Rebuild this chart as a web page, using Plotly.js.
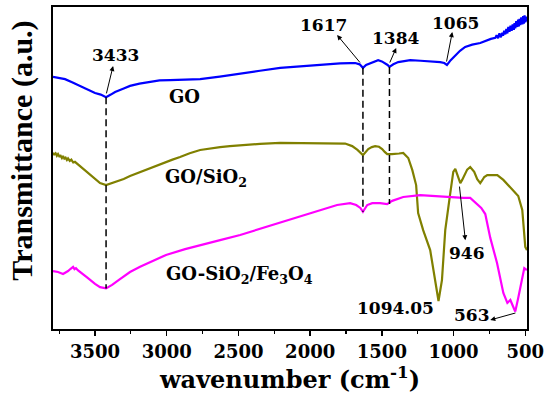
<!DOCTYPE html>
<html>
<head>
<meta charset="utf-8">
<script src="https://cdn.plot.ly/plotly-3.0.1.min.js"></script>
<style>html,body{margin:0;padding:0;background:#fff;}#chart{width:545px;height:398px;}</style>
</head>
<body>
<div id="chart"></div>
<script>
// GO (blue)
const goWave = [3793,3760,3709,3660,3605,3550,3500,3460,3423,3390,3360,3300,3256,3190,3116,3050,2977,2870,2767,2630,2488,2350,2209,2100,2000,1900,1791,1720,1686,1655,1632,1610,1581,1550,1526,1500,1477,1460,1447,1420,1386,1340,1302,1230,1163,1120,1093,1065,1046,1020,988,955,919,870,814,770,740,709,700,690,680,670,660,655,647,639,632,625,618,610,603,595,588,580,575,570,563,555,550,545,540,535,528,520,515,510,505,500,496,493,490];
const goT    = [78.3,78.0,77.6,76.6,75.5,74.3,73.3,72.8,72.0,72.8,73.6,74.7,75.5,76.2,76.7,77.2,77.3,77.5,77.6,78.4,79.2,80.2,81.1,81.5,81.7,82.2,82.5,82.6,82.6,82.2,81.1,82.0,82.6,83.2,83.5,83.1,82.6,82.0,81.4,82.2,82.9,83.3,83.5,83.3,83.1,83.0,82.9,82.6,82.0,83.5,85.1,86.4,87.6,88.3,88.8,89.6,90.1,90.4,91.2,90.3,91.8,90.6,92.0,91.1,92.6,91.5,93.2,91.8,93.8,92.3,94.2,92.6,94.6,92.9,95.0,93.4,95.6,93.8,96.1,94.0,96.3,94.4,96.8,94.6,97.2,94.8,97.4,95.2,97.0,95.5,96.6];

// GO/SiO2 (olive)
const siWave = [3793,3785,3775,3766,3758,3749,3740,3731,3723,3714,3705,3696,3688,3676,3665,3652,3640,3605,3570,3535,3500,3465,3423,3390,3360,3300,3256,3180,3116,3060,3012,2960,2907,2840,2767,2700,2628,2560,2488,2350,2209,2070,1900,1756,1707,1670,1632,1610,1595,1570,1547,1520,1498,1480,1463,1430,1407,1380,1351,1316,1288,1261,1247,1212,1163,1128,1105,1081,1058,1023,1002,988,967,953,940,925,905,884,856,835,814,800,786,765,744,720,695,653,618,577,549,521,500,488];
const siT    = [54.7,54.2,54.6,53.8,54.3,53.6,53.8,53.1,53.7,52.9,53.2,52.5,53.0,52.2,52.6,51.7,51.9,50.6,49.4,48.0,46.6,45.3,44.7,45.2,45.7,46.6,47.5,48.8,50.0,51.0,51.9,52.6,53.4,54.6,55.6,56.1,56.5,56.8,57.1,57.5,57.8,57.8,57.7,57.6,56.8,55.6,54.0,55.2,55.9,56.5,56.8,56.6,55.9,55.0,54.3,54.3,54.3,54.5,54.7,53.1,49.4,44.7,36.0,30.7,24.5,15.2,8.7,15.2,30.7,42.2,48.8,49.7,47.2,45.3,46.3,47.8,49.5,50.3,48.8,46.5,45.3,46.2,47.2,47.8,47.8,47.8,47.8,46.3,44.7,42.5,41.3,37.0,25.5,24.5];

// GO-SiO2/Fe3O4 (magenta)
const feWave = [3793,3758,3723,3705,3688,3670,3653,3643,3633,3618,3605,3580,3549,3500,3465,3423,3381,3326,3256,3186,3102,3005,2872,2767,2628,2488,2349,2209,2070,1930,1812,1721,1679,1650,1632,1602,1567,1512,1463,1428,1351,1233,1072,933,884,842,807,779,744,697,653,625,604,585,570,550,535,507,489];
const feT    = [18.0,17.7,17.1,17.5,18.0,18.7,19.3,18.6,18.9,18.2,17.7,16.9,15.8,14.0,13.0,12.6,13.7,15.5,17.7,19.3,21.1,23.0,24.8,26.1,27.6,29.2,31.1,33.2,35.1,37.0,38.5,39.1,38.5,37.6,36.4,38.5,39.1,39.1,38.8,39.8,41.0,41.6,41.0,40.7,40.7,39.1,37.6,35.7,28.3,20.5,11.2,8.1,9.0,7.0,5.4,9.5,13.0,18.9,18.3];

// Peak marker lines (wavenumber, top, bottom)
const dashX   = [3423, 1632, 1447];
const dashTop = [72.0, 81.1, 81.4];
const dashBot = [12.6, 36.4, 38.8];

// Peak labels
const peakText = ['3433','1617','1384','1065','946','1094.05','563'];
const peakX    = [3360, 1909, 1407, 988, 907, 1407, 872];
const peakY    = [85.0, 94.3, 90.3, 94.9, 23.5, 6.4, 4.2];
// Arrows: head and tail
const arrHeadX = [3374, 1812, 1400, 1009, 918, 744];
const arrHeadY = [81.7, 91.3, 87.3, 92.2, 27.6, 2.8];
const arrTailX = [3423, 1644, 1449, 1051, 960, 558];
const arrTailY = [72.7, 82.3, 82.3, 82.6, 44.7, 5.1];

// Series labels
const seriesText = ['GO','GO/SiO<sub>2</sub>','GO-SiO<sub>2</sub>/Fe<sub>3</sub>O<sub>4</sub>'];
const seriesLabX = [2998, 3023, 3019];
const seriesLabY = [72.1, 47.0, 16.9];

const fontFam = 'DejaVu Serif, serif';

const traces = [
  {x: goWave, y: goT, type: 'scatter', mode: 'lines', name: 'GO', line: {color: '#0000ff', width: 2.2}},
  {x: siWave, y: siT, type: 'scatter', mode: 'lines', name: 'GO/SiO2', line: {color: '#808000', width: 2.2}},
  {x: feWave, y: feT, type: 'scatter', mode: 'lines', name: 'GO-SiO2/Fe3O4', line: {color: '#ff00ff', width: 2.2}}
];

const shapes = dashX.map((x, i) => ({
  type: 'line', xref: 'x', yref: 'y', x0: x, x1: x, y0: dashTop[i], y1: dashBot[i],
  line: {color: '#000', width: 1.5, dash: '7px,4px'}
}));

const annotations = [];
peakText.forEach((t, i) => annotations.push({
  x: peakX[i], y: peakY[i], xref: 'x', yref: 'y', text: t, showarrow: false,
  xanchor: 'center', yanchor: 'middle', font: {family: fontFam, size: 17, color: '#000', weight: 'bold'}
}));
arrHeadX.forEach((x, i) => annotations.push({
  x: x, y: arrHeadY[i], ax: arrTailX[i], ay: arrTailY[i], axref: 'x', ayref: 'y', xref: 'x', yref: 'y',
  text: '', showarrow: true, arrowhead: 2, arrowsize: 1, arrowwidth: 1, arrowcolor: '#000', standoff: 0, startstandoff: 0
}));
seriesText.forEach((t, i) => annotations.push({
  x: seriesLabX[i], y: seriesLabY[i], xref: 'x', yref: 'y', text: t, showarrow: false,
  xanchor: 'left', yanchor: 'middle', font: {family: fontFam, size: 18, color: '#000', weight: 'bold'}
}));
annotations.push({
  xref: 'paper', yref: 'paper', x: -0.066, y: 0.553, xanchor: 'center', yanchor: 'middle',
  text: 'Transmittance (a.u.)', textangle: -90, showarrow: false,
  font: {family: 'Liberation Serif, serif', size: 30, color: '#000', weight: 'bold'}
});

const layout = {
  width: 545, height: 398,
  margin: {l: 53, r: 18, t: 7, b: 69},
  paper_bgcolor: '#fff', plot_bgcolor: '#fff',
  showlegend: false,
  xaxis: {
    range: [3793, 488], autorange: false,
    showline: true, mirror: true, linecolor: '#000', linewidth: 2,
    ticks: 'outside', ticklen: 5, tickwidth: 1.5, tickcolor: '#000',
    tick0: 500, dtick: 500,
    minor: {ticks: 'outside', ticklen: 3, tickwidth: 1.2, tickcolor: '#000', tick0: 250, dtick: 250},
    showgrid: false, zeroline: false,
    tickfont: {family: fontFam, size: 18, color: '#000', weight: 'bold'},
    title: {text: 'wavenumber (cm<sup>-1</sup>)', font: {family: fontFam, size: 24, color: '#000', weight: 'bold'}, standoff: 6}
  },
  yaxis: {
    range: [0, 100], autorange: false,
    showline: true, mirror: true, linecolor: '#000', linewidth: 2,
    ticks: '', showticklabels: false, showgrid: false, zeroline: false
  },
  shapes: shapes,
  annotations: annotations
};

Plotly.newPlot('chart', traces, layout, {displayModeBar: false, staticPlot: true});
</script>
</body>
</html>
